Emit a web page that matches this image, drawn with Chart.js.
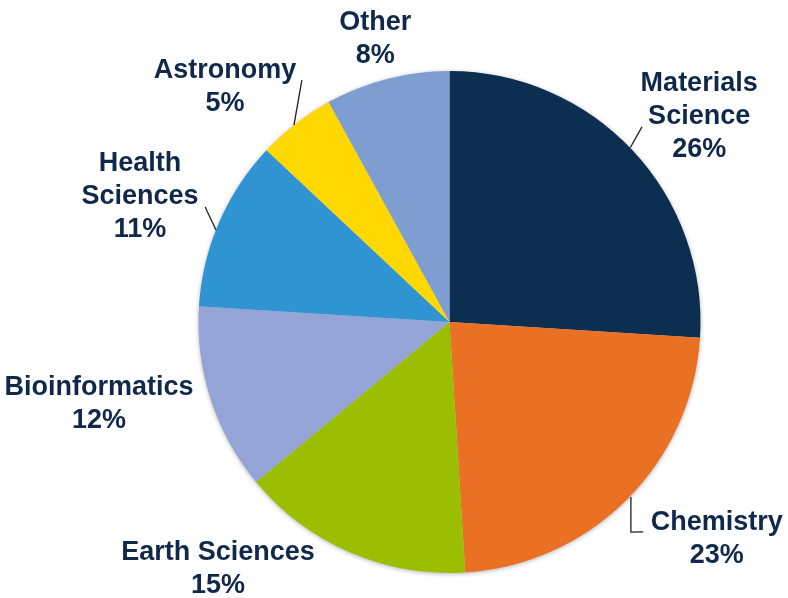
<!DOCTYPE html>
<html>
<head>
<meta charset="utf-8">
<script src="https://cdn.jsdelivr.net/npm/chart.js@4/dist/chart.umd.min.js"></script>
<style>
  html, body { margin: 0; padding: 0; background: #ffffff; }
  #wrap { width: 788px; height: 598px; }
</style>
</head>
<body>
<div id="wrap"><canvas id="pie" width="788" height="598"></canvas></div>
<script>
// Research fields, clockwise from 12 o'clock
const categories = ['Materials Science', 'Chemistry', 'Earth Sciences', 'Bioinformatics', 'Health Sciences', 'Astronomy', 'Other'];
const shares = [26, 23, 15, 12, 11, 5, 8];
const labelLines = [
  ['Materials', 'Science'],
  ['Chemistry'],
  ['Earth Sciences'],
  ['Bioinformatics'],
  ['Health', 'Sciences'],
  ['Astronomy'],
  ['Other']
];
const sliceColors = ['#0c2e51', '#ea7024', '#9bbf00', '#94a4d6', '#3094d2', '#fed800', '#7e9ed2'];

// Label placement, polar around the pie centre: angle in degrees clockwise
// from 12 o'clock and distance as a multiple of the outer radius.
const labelAngle = [50.5, 129.07, 223.1, 256.8, 292, 316.3, 345.3];
const labelDist  = [1.289, 1.371, 1.350, 1.434, 1.33, 1.295, 1.166];
// Leader lines, same polar convention: [angle, radiusFactor] per vertex.
const leaders = [
  [[46.05, 1.0], [44.6, 1.092]],
  [[133.96, 1.004], [139.2, 1.106], [137.3, 1.138]],
  null,
  null,
  [[291.5, 1.0], [295.2, 1.076]],
  [[321.7, 1.0], [328.6, 1.129]],
  null
];

const TEXT_COLOR = '#10294a';
const FONT = 'bold 27px "Liberation Sans", Arial, sans-serif';
const LINE_H = 33;

function polar(cx, cy, r, deg, f) {
  const a = (deg - 90) * Math.PI / 180;
  return { x: cx + Math.cos(a) * r * f, y: cy + Math.sin(a) * r * f };
}

// Soft drop shadow beneath the whole disc
const pieShadow = {
  id: 'pieShadow',
  beforeDatasetsDraw(chart) {
    const arc = chart.getDatasetMeta(0).data[0];
    if (!arc) return;
    const { x, y, outerRadius } = arc.getProps(['x', 'y', 'outerRadius'], true);
    const ctx = chart.ctx;
    ctx.save();
    ctx.shadowColor = 'rgba(0,0,0,0.35)';
    ctx.shadowBlur = 5;
    ctx.shadowOffsetX = 0;
    ctx.shadowOffsetY = 1;
    ctx.beginPath();
    ctx.arc(x, y, outerRadius - 0.5, 0, Math.PI * 2);
    ctx.fillStyle = '#cccccc';
    ctx.fill();
    ctx.restore();
  }
};

// Category name + percentage, with leader lines
const sliceLabels = {
  id: 'sliceLabels',
  afterDatasetsDraw(chart) {
    const meta = chart.getDatasetMeta(0);
    const ctx = chart.ctx;
    const values = chart.data.datasets[0].data;
    const total = values.reduce((s, v) => s + v, 0);
    meta.data.forEach((arc, i) => {
      const { x, y, outerRadius } = arc.getProps(['x', 'y', 'outerRadius'], true);
      const pts = leaders[i];
      if (pts) {
        ctx.save();
        ctx.strokeStyle = '#1f1f1f';
        ctx.lineWidth = 1.3;
        ctx.beginPath();
        pts.forEach((p, k) => {
          const q = polar(x, y, outerRadius, p[0], p[1]);
          if (k === 0) ctx.moveTo(q.x, q.y); else ctx.lineTo(q.x, q.y);
        });
        ctx.stroke();
        ctx.restore();
      }
      const lines = labelLines[i].concat([Math.round(values[i] / total * 100) + '%']);
      const c = polar(x, y, outerRadius, labelAngle[i], labelDist[i]);
      ctx.save();
      ctx.font = FONT;
      ctx.fillStyle = TEXT_COLOR;
      ctx.textAlign = 'center';
      ctx.textBaseline = 'middle';
      const top = c.y - (lines.length - 1) * LINE_H / 2;
      lines.forEach((t, k) => ctx.fillText(t, c.x, top + k * LINE_H));
      ctx.restore();
    });
  }
};

new Chart(document.getElementById('pie'), {
  type: 'pie',
  data: {
    labels: categories,
    datasets: [{
      data: shares,
      backgroundColor: sliceColors,
      borderWidth: 0,
      hoverOffset: 0
    }]
  },
  options: {
    responsive: false,
    animation: false,
    layout: { padding: { left: 198, right: 87, top: 71, bottom: 25 } },
    plugins: {
      legend: { display: false },
      tooltip: { enabled: false }
    }
  },
  plugins: [pieShadow, sliceLabels]
});
</script>
</body>
</html>
